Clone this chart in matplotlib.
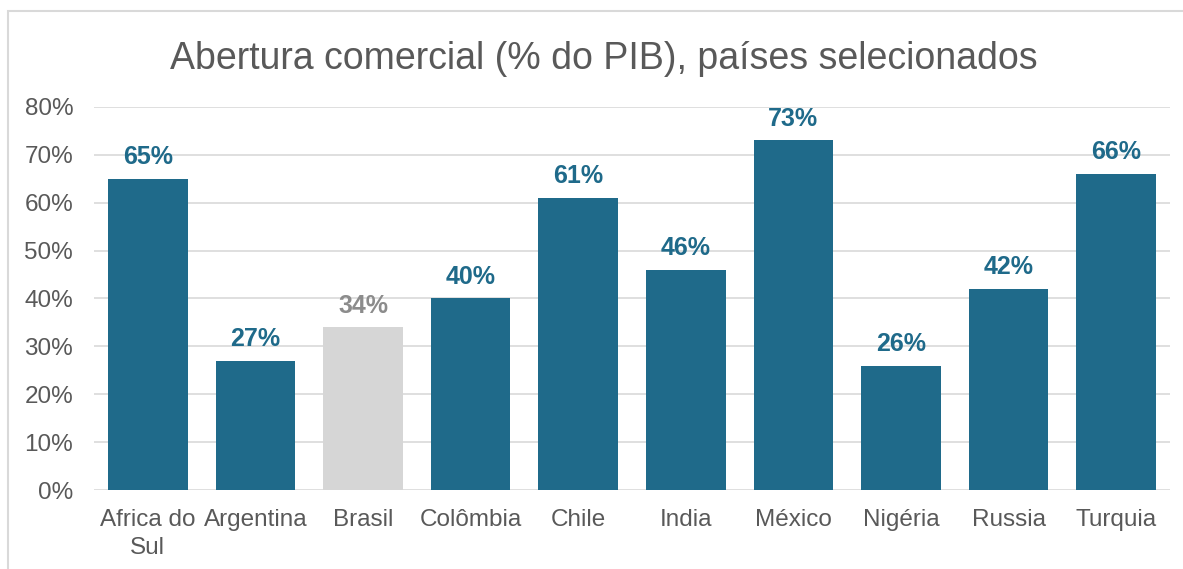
import matplotlib
matplotlib.use("Agg")
import matplotlib.pyplot as plt
from matplotlib.patches import Rectangle
from matplotlib.ticker import FuncFormatter

plt.rcParams['font.family'] = ['Liberation Sans', 'DejaVu Sans']

countries = ["Africa do\nSul", "Argentina", "Brasil", "Colômbia", "Chile",
             "India", "México", "Nigéria", "Russia", "Turquia"]
openness = [65, 27, 34, 40, 61, 46, 73, 26, 42, 66]
highlight = "Brasil"

BLUE = "#1F6A8A"
GREY_BAR = "#D6D6D6"
GREY_LABEL = "#8C8C8C"
TEXT = "#595959"
GRID = "#D9D9D9"

fig = plt.figure(figsize=(11.83, 5.69), dpi=100)
fig.patch.set_facecolor("white")
fig.patches.append(Rectangle((0.0068, -0.05), 1.1, 0.981 + 0.05,
                             transform=fig.transFigure, fill=False,
                             edgecolor=GRID, linewidth=1.5))

ax = fig.add_axes([0.0795, 0.1388, 0.9095, 0.6732])

x = list(range(len(countries)))
colors = [GREY_BAR if c == highlight else BLUE for c in countries]
bars = ax.bar(x, openness, width=0.74, color=colors, zorder=3)

for xi, v, c in zip(x, openness, countries):
    is_hl = c == highlight
    ax.annotate(f"{v}%", (xi, v), xytext=(0, 7), textcoords="offset points",
                ha="center", va="bottom", fontsize=18, fontweight="bold",
                color=GREY_LABEL if is_hl else BLUE)

ax.set_xlim(-0.5, len(countries) - 0.5)
ax.set_ylim(0, 80)
ax.set_yticks(range(0, 81, 10))
ax.yaxis.set_major_formatter(FuncFormatter(lambda v, p: f"{int(v)}%"))
ax.set_xticks(x)
ax.set_xticklabels(countries, linespacing=1.35)

ax.grid(axis="y", color=GRID, linewidth=1.2, zorder=0)
for s in ax.spines.values():
    s.set_visible(False)
ax.tick_params(axis="both", length=0, labelsize=17.5, labelcolor=TEXT)
ax.tick_params(axis="x", pad=14)
ax.tick_params(axis="y", pad=15)

fig.text(0.510, 0.897, "Abertura comercial (% do PIB), países selecionados",
         ha="center", va="center", fontsize=27, color=TEXT)

fig.savefig("out.png", dpi=100)
